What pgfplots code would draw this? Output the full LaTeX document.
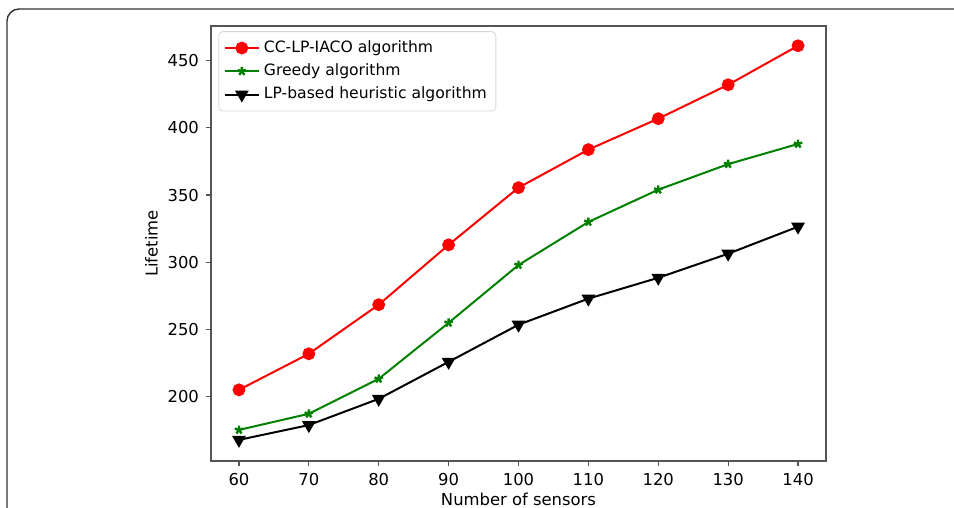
\documentclass[border=0pt]{standalone}
\usepackage{pgfplots}
\pgfplotsset{compat=1.18}
\usepackage{fontspec}
\setmainfont{DejaVu Sans}
\definecolor{mplRed}{HTML}{FF0000}
\definecolor{mplGreen}{HTML}{008000}
\definecolor{mplSpine}{HTML}{555555}
\definecolor{mplLegend}{HTML}{D6D6D6}

\begin{document}
\begin{tikzpicture}
\useasboundingbox (0,0) rectangle (477pt,254pt);
% outer frame of the figure panel
\draw[color=black!80,line width=0.7pt,rounded corners=6pt]
  (3.5pt,0pt) -- (3.5pt,249.5pt) -- (477pt,249.5pt);
\begin{axis}[
  at={(105.5pt,23.5pt)},anchor=south west,
  scale only axis,
  width=307.5pt,height=217.5pt,
  font=\fontsize{8.2}{10}\selectfont,
  xmin=56,xmax=144,ymin=152.3,ymax=475.7,
  xtick={60,70,...,140},
  ytick={200,250,...,450},
  /pgf/number format/assume math mode=true,
  tick align=outside,
  tick pos=left,
  major tick length=2.5pt,
  tick style={color=mplSpine,line width=0.6pt},
  axis line style={color=mplSpine,line width=0.7pt},
  xlabel={Number of sensors},
  ylabel={Lifetime},
  xlabel style={yshift=3pt},
  ylabel style={yshift=-2pt},
  legend style={at={(0.012,0.988)},anchor=north west,
    draw=mplLegend,rounded corners=2pt,fill=white,
    font=\fontsize{7.8}{9.5}\selectfont,
    row sep=0.2pt,inner sep=2.5pt},
  legend cell align=left,
  legend image code/.code={
    \draw[mark repeat=2,mark phase=2] plot coordinates {(0cm,0cm) (0.3cm,0cm) (0.6cm,0cm)};},
]
\addplot[mplRed,line width=1pt,mark=*,mark size=2.7pt]
  coordinates {(60,205.2)(70,232)(80,268.5)(90,313)(100,355.5)(110,383.8)(120,406.8)(130,432)(140,461)};
\addlegendentry{CC-LP-IACO algorithm}
\addplot[mplGreen,line width=1pt,mark=star,mark size=2.2pt,mark options={line width=1.2pt}]
  coordinates {(60,175.4)(70,187.4)(80,213.4)(90,255)(100,298)(110,330)(120,354)(130,373)(140,388)};
\addlegendentry{Greedy algorithm}
\addplot[black,line width=1pt,mark=triangle*,mark size=3pt,mark options={rotate=180}]
  coordinates {(60,168)(70,179)(80,198.5)(90,226)(100,253.6)(110,273)(120,288.5)(130,306.4)(140,326.5)};
\addlegendentry{LP-based heuristic algorithm}
\end{axis}
\end{tikzpicture}
\end{document}
